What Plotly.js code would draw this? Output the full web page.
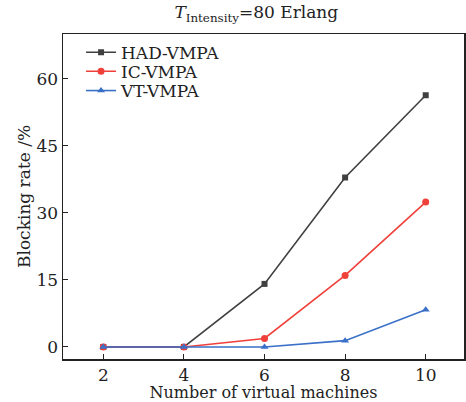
<!DOCTYPE html>
<html>
<head>
<meta charset="utf-8">
<script src="https://cdn.plot.ly/plotly-3.0.1.min.js"></script>
<style>html,body{margin:0;padding:0;background:#fff;}#chart{width:466px;height:402px;}</style>
</head>
<body>
<div id="chart"></div>
<script>
const vms = [2, 4, 6, 8, 10];
const hadVmpa = [0, 0, 14.1, 37.9, 56.3];
const icVmpa = [0, 0, 1.9, 16.0, 32.4];
const vtVmpa = [0, 0, 0, 1.4, 8.3];
const xTicks = [2, 4, 6, 8, 10];
const yTicks = [0, 15, 30, 45, 60];

const font = "DejaVu Serif, serif";
const traces = [
  {x: vms, y: hadVmpa, name: "HAD-VMPA", mode: "lines+markers", legend: "legend",
   line: {color: "#404040", width: 1.6}, marker: {symbol: "square", size: 6, color: "#404040"}},
  {x: vms, y: icVmpa, name: "IC-VMPA", mode: "lines+markers", legend: "legend2",
   line: {color: "#f0403a", width: 1.6}, marker: {symbol: "circle", size: 7, color: "#f0403a"}},
  {x: vms, y: vtVmpa, name: "VT-VMPA", mode: "lines+markers", legend: "legend3",
   line: {color: "#3a70c8", width: 1.6}, marker: {symbol: "triangle-up", size: 7, color: "#3a70c8"}}
];
function leg(y) {
  return {x: 0.045, y: y, xanchor: "left", yanchor: "middle", bgcolor: "rgba(0,0,0,0)",
          font: {family: font, size: 17, color: "#222"}, itemwidth: 30};
}
const layout = {
  width: 466, height: 402,
  margin: {l: 63, r: 2, t: 34, b: 43},
  paper_bgcolor: "#fff", plot_bgcolor: "#fff",
  font: {family: font, size: 17, color: "#222"},
  title: {text: "<i>T</i><sub>Intensity</sub>=80 Erlang", x: 0.55, xanchor: "center", y: 0.985, yanchor: "top",
          font: {family: font, size: 17, color: "#222"}},
  showlegend: true,
  legend: leg(0.9425),
  legend2: leg(0.884),
  legend3: leg(0.8246),
  xaxis: {range: [1, 10.95], tickvals: xTicks, ticktext: xTicks.map(String),
          showgrid: false, zeroline: false, showline: true, linecolor: "#222", linewidth: 1.5, mirror: true,
          ticks: "inside", ticklen: 5, tickcolor: "#222", tickfont: {family: font, size: 17},
          title: {text: "Number of virtual machines", standoff: 0, font: {family: font, size: 16}}},
  yaxis: {range: [-2.7, 70], tickvals: yTicks, ticktext: yTicks.map(String),
          showgrid: false, zeroline: false, showline: true, linecolor: "#222", linewidth: 1.5, mirror: true,
          ticks: "inside", ticklen: 5, tickcolor: "#222", tickfont: {family: font, size: 17},
          title: {text: "Blocking rate /%", standoff: 1, font: {family: font, size: 17}}}
};
Plotly.newPlot("chart", traces, layout, {displayModeBar: false, staticPlot: true});
</script>
</body>
</html>
